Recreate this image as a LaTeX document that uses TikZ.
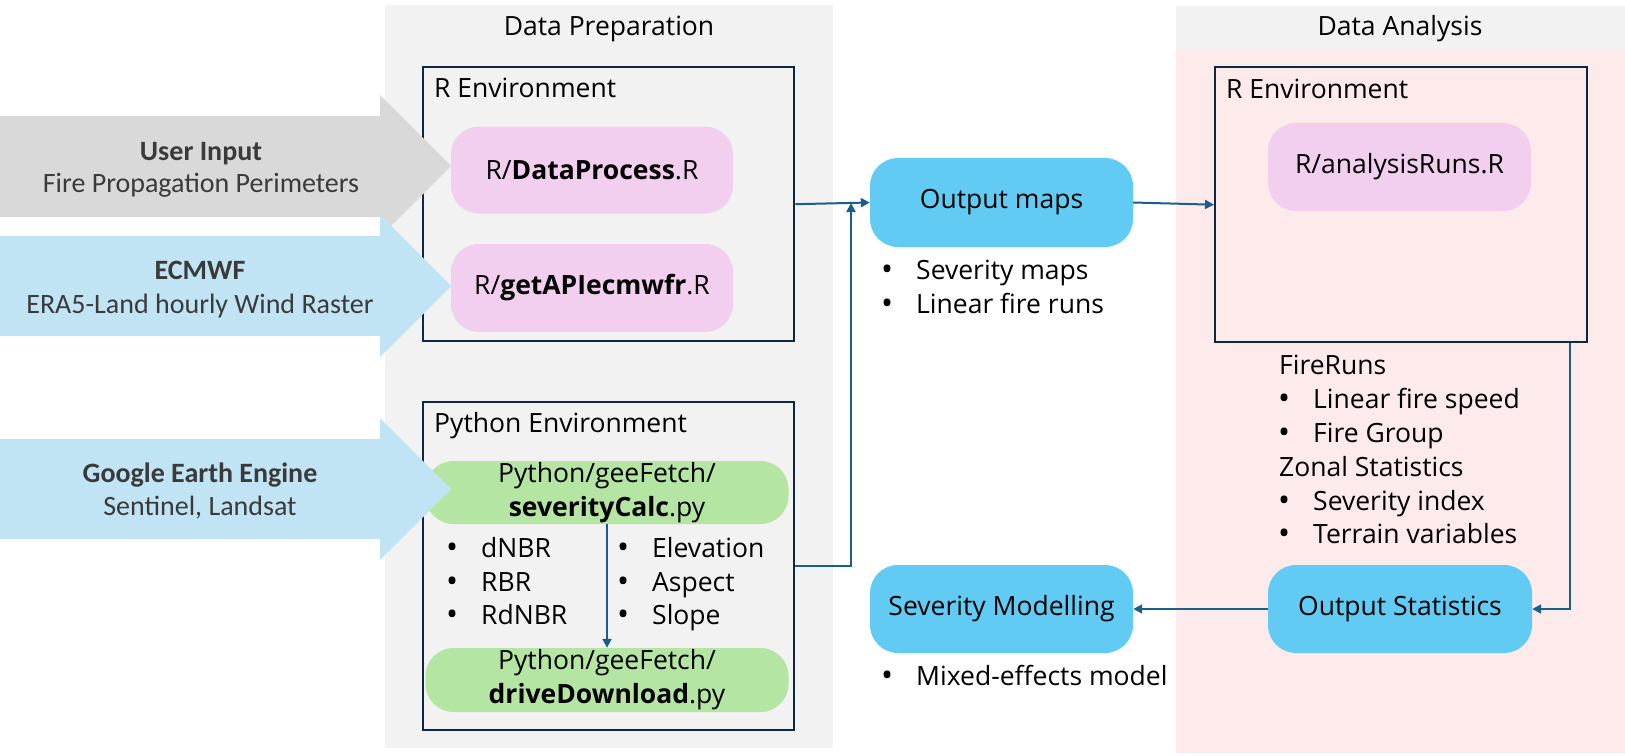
\documentclass[tikz,border=0pt]{standalone}
\usepackage{fontspec}
\setmainfont{Open Sans}
\newfontfamily\calfont{Carlito}
\usetikzlibrary{arrows.meta}
\definecolor{panelgray}{HTML}{F2F2F2}
\definecolor{pinkbg}{HTML}{FDEAEA}
\definecolor{navy}{HTML}{0E2841}
\definecolor{conn}{HTML}{1A5F8A}
\definecolor{rpinkfill}{HTML}{F2CFEE}
\definecolor{greenfill}{HTML}{B4E5A2}
\definecolor{bluefill}{HTML}{61CBF3}
\definecolor{arrowgray}{HTML}{D9D9D9}
\definecolor{arrowblue}{HTML}{C1E4F5}
\definecolor{arrowtext}{HTML}{3A3A3A}
\newcommand{\bul}[1]{\makebox[35pt][l]{\raisebox{-1.5pt}{\fontsize{32}{34}\selectfont•}}#1}
\tikzset{
  main/.style={font=\fontsize{26.5}{34}\selectfont, text=black},
  envbox/.style={draw=navy, line width=2.4pt, anchor=north west, inner sep=0pt},
  pill/.style={main, rounded corners=28pt, inner sep=0pt, align=center},
  rpill/.style={pill, fill=rpinkfill},
  gpill/.style={pill, fill=greenfill},
  bpill/.style={pill, fill=bluefill},
  lbl/.style={main, anchor=base west, inner sep=0pt},
  ttl/.style={main, anchor=base, inner sep=0pt},
  atxt/.style={font=\calfont\fontsize{28}{34}\selectfont, text=arrowtext, anchor=base, inner sep=0pt},
  conline/.style={draw=conn, line width=2pt, -{Triangle[length=9pt,width=9pt]}},
}
\begin{document}
\begin{tikzpicture}[x=1pt,y=-1pt]
\useasboundingbox (0,0) rectangle (1625,755);
% panels
\fill[panelgray] (385,5) rectangle (833,748);
\fill[panelgray] (1176,6) rectangle (1625,50);
\fill[pinkbg] (1176,50) rectangle (1625,753);
\node[ttl] (prepTitle) at (609,35) {Data Preparation};
\node[ttl] (anaTitle) at (1400,35) {Data Analysis};
% environment boxes
\node[envbox, minimum width=371pt, minimum height=274pt] (prepR) at (422,66) {};
\node[lbl] (prepRlbl) at (434,97) {R Environment};
\node[envbox, minimum width=371pt, minimum height=328pt] (pyR) at (422,401) {};
\node[lbl] (pyRlbl) at (434,432) {Python Environment};
\node[envbox, minimum width=372pt, minimum height=275pt] (anaR) at (1214,66) {};
\node[lbl] (anaRlbl) at (1226,98) {R Environment};
% pills
\node[rpill, minimum width=282pt, minimum height=87pt] (dataproc) at (592,170) {R/\textbf{DataProcess}.R};
\node[rpill, minimum width=282pt, minimum height=88pt] (getapi) at (592,288) {R/\textbf{getAPIecmwfr}.R};
\node[gpill, minimum width=363pt, minimum height=63pt] (sevcalc) at (607,492.5) {Python/geeFetch/\\\textbf{severityCalc}.py};
\node[gpill, minimum width=363pt, minimum height=64pt] (drive) at (607,680) {Python/geeFetch/\\\textbf{driveDownload}.py};
\node[rpill, minimum width=263pt, minimum height=88pt] (anaruns) at (1399.5,167) {R/analysisRuns.R};
\node[bpill, minimum width=263pt, minimum height=89pt] (outmaps) at (1001.5,202.5) {Output maps};
\node[bpill, minimum width=264pt, minimum height=88pt] (outstats) at (1400,609) {Output Statistics};
\node[bpill, minimum width=263pt, minimum height=88pt] (sevmod) at (1001.5,609) {Severity Modelling};
% big input arrows
\fill[arrowgray] (0,116) -- (380,116) -- (380,95) -- (451,166) -- (380,237) -- (380,217) -- (0,217) -- cycle;
\fill[arrowblue] (0,236) -- (380,236) -- (380,215) -- (451,286) -- (380,357) -- (380,336) -- (0,336) -- cycle;
\fill[arrowblue] (0,439) -- (380,439) -- (380,418) -- (451,489) -- (380,560) -- (380,539) -- (0,539) -- cycle;
\node[atxt] (userIn) at (201,160) {\textbf{User Input}};
\node[atxt] (userSub) at (201,192) {Fire Propagation Perimeters};
\node[atxt] (ecmwf) at (200,279) {\textbf{ECMWF}};
\node[atxt] (ecmwfSub) at (200,313) {ERA5-Land hourly Wind Raster};
\node[atxt] (gee) at (200,482) {\textbf{Google Earth Engine}};
\node[atxt] (geeSub) at (200,515) {Sentinel, Landsat};
% bullet lists
\node[lbl] (pb1) at (446,557) {\bul{dNBR}};
\node[lbl] (pb2) at (446,591) {\bul{RBR}};
\node[lbl] (pb3) at (446,624) {\bul{RdNBR}};
\node[lbl] (pc1) at (617,557) {\bul{Elevation}};
\node[lbl] (pc2) at (617,591) {\bul{Aspect}};
\node[lbl] (pc3) at (617,624) {\bul{Slope}};
\node[lbl] (om1) at (881,279) {\bul{Severity maps}};
\node[lbl] (om2) at (881,313) {\bul{Linear fire runs}};
\node[lbl] (sm1) at (881,685) {\bul{Mixed-effects model}};
\node[lbl] (fr0) at (1279,374) {FireRuns};
\node[lbl] (fr1) at (1278,408) {\bul{Linear fire speed}};
\node[lbl] (fr2) at (1278,442) {\bul{Fire Group}};
\node[lbl] (zs0) at (1279,476) {Zonal Statistics};
\node[lbl] (zs1) at (1278,510) {\bul{Severity index}};
\node[lbl] (zs2) at (1278,543) {\bul{Terrain variables}};
% connectors
\coordinate (join) at (851,203);
\coordinate (anaTurn) at (1570,609);
\draw[conline] (prepR.east) -- (outmaps.west);
\draw[conline] (pyR.east) -| (join);
\draw[conline] (outmaps.east) -- (anaR.west);
\draw[conline] (anaR.south -| anaTurn) -- (anaTurn) -- (outstats.east);
\draw[conline] (outstats.west) -- (sevmod.east);
\draw[conline] (sevcalc.south) -- (drive.north);
\end{tikzpicture}
\end{document}
